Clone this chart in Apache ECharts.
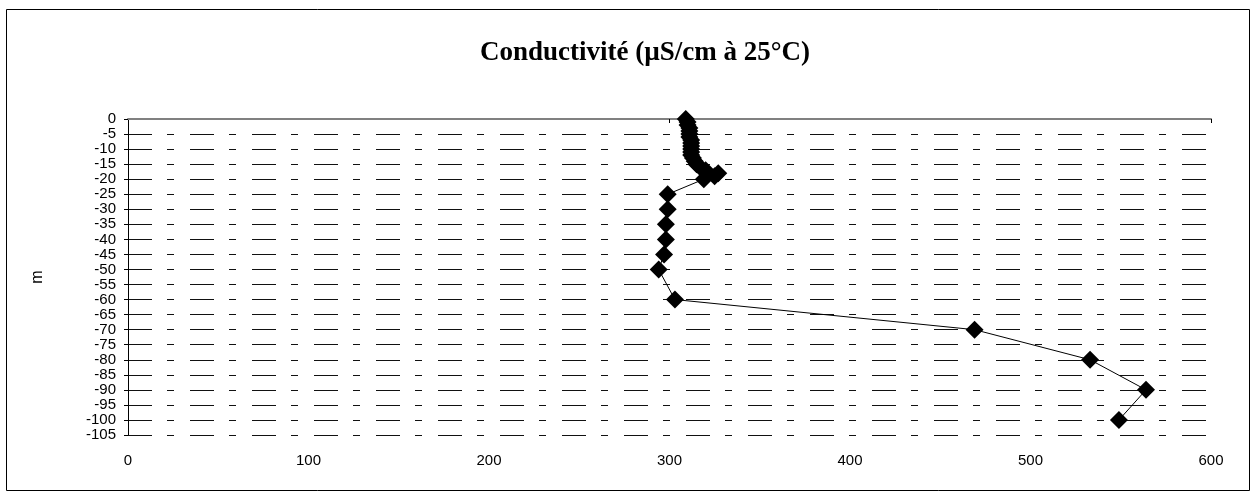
<!DOCTYPE html>
<html>
<head>
<meta charset="utf-8">
<script src="https://cdn.jsdelivr.net/npm/echarts@6/dist/echarts.min.js"></script>
<style>html,body{margin:0;padding:0;background:#fff;}#c{width:1256px;height:500px;}</style>
</head>
<body>
<div id="c"></div>
<script>
const titleText = 'Conductivité (µS/cm à 25°C)';
const yAxisName = 'm';
const depths = [0,-1,-2,-3,-4,-5,-6,-7,-8,-9,-10,-11,-12,-13,-14,-15,-16,-17,-18,-19,-20,-25,-30,-35,-40,-45,-50,-60,-70,-80,-90,-100];
const conductivity = [309,310,310,311,311,311,311,312,312,312,312,312,312,313,314,315,317,320,327,325,319,299,299,298,298,297,294,303,469,533,564,549];
const xTicks = [0,100,200,300,400,500,600];

const chart = echarts.init(document.getElementById('c'), null, {renderer:'canvas'});
const data = depths.map((d,i)=>[conductivity[i], d]);
chart.setOption({
  animation:false,
  backgroundColor:'#fff',
  title:{text:titleText,left:640,top:35,textAlign:'center',
    textStyle:{fontFamily:'Liberation Serif',fontWeight:'bold',fontSize:27,color:'#000'}},
  grid:{left:128,right:45,top:119,bottom:65},
  xAxis:[{
    type:'value',min:xTicks[0],max:xTicks[xTicks.length-1],interval:100,position:'bottom',
    axisLine:{show:false},axisTick:{show:false},splitLine:{show:false},
    axisLabel:{margin:18,fontFamily:'Liberation Sans',fontSize:15,color:'#000'}
  },{
    type:'value',min:0,max:600,interval:100,position:'top',
    axisLine:{show:true,lineStyle:{color:'#808080',width:2}},
    axisTick:{show:true,inside:true,length:4,customValues:[300,600],lineStyle:{color:'#000'}},
    axisLabel:{show:false},splitLine:{show:false}
  }],
  yAxis:{
    type:'value',min:-105,max:0,interval:5,
    name:yAxisName,nameLocation:'middle',nameGap:82,nameRotate:90,
    nameTextStyle:{fontFamily:'Liberation Sans',fontSize:16,color:'#000'},
    axisLine:{show:true,lineStyle:{color:'#000',width:1}},
    axisTick:{show:true,length:4,lineStyle:{color:'#000'}},
    axisLabel:{margin:12,fontFamily:'Liberation Sans',fontSize:15,color:'#000'},
    splitLine:{show:true,lineStyle:{color:'#111',width:1,type:[24,15,7,16],dashOffset:0}}
  },
  graphic:[{type:'rect',shape:{x:6.5,y:9.5,width:1243,height:481},
    style:{fill:'none',stroke:'#000',lineWidth:1},z:-1}],
  series:[{
    type:'line',data:data,xAxisIndex:0,
    symbol:'diamond',symbolSize:18,
    itemStyle:{color:'#000'},
    lineStyle:{color:'#000',width:1},
    z:5
  }]
});
</script>
</body>
</html>
